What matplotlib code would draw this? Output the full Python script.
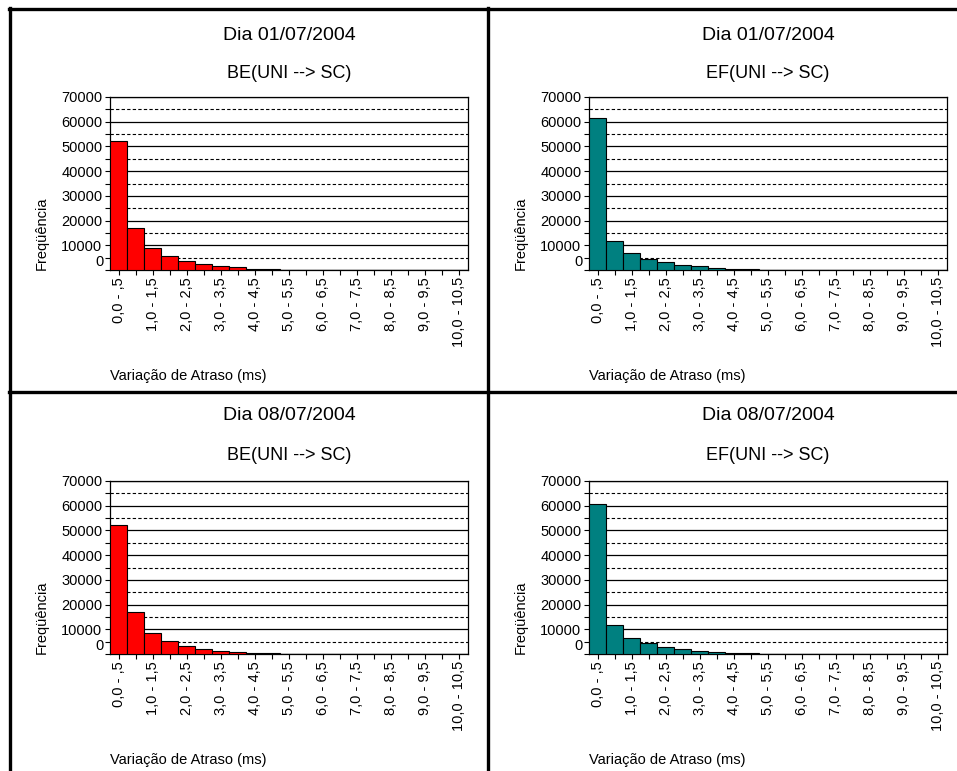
import matplotlib
matplotlib.use("Agg")
import matplotlib.pyplot as plt
from matplotlib.lines import Line2D
from matplotlib.ticker import MultipleLocator, FixedLocator
import numpy as np

plt.rcParams['font.family'] = ['Liberation Sans', 'DejaVu Sans']

bin_labels = ["0,0 - ,5", ",5 - 1,0", "1,0 - 1,5", "1,5 - 2,0", "2,0 - 2,5", "2,5 - 3,0",
              "3,0 - 3,5", "3,5 - 4,0", "4,0 - 4,5", "4,5 - 5,0", "5,0 - 5,5", "5,5 - 6,0",
              "6,0 - 6,5", "6,5 - 7,0", "7,0 - 7,5", "7,5 - 8,0", "8,0 - 8,5", "8,5 - 9,0",
              "9,0 - 9,5", "9,5 - 10,0", "10,0 - 10,5"]

be_0107 = [52200, 17100, 9100, 5500, 3500, 2500, 1600, 1100, 570, 300, 200, 150, 100, 80, 50, 30, 20, 10, 10, 5, 5]
ef_0107 = [61700, 11900, 6760, 4600, 3100, 2200, 1550, 970, 570, 350, 200, 150, 100, 80, 50, 30, 20, 10, 10, 5, 5]
be_0807 = [52300, 16900, 8500, 5100, 3100, 2050, 1380, 950, 550, 300, 200, 150, 100, 70, 50, 30, 20, 10, 10, 5, 5]
ef_0807 = [60800, 11800, 6550, 4600, 2950, 2000, 1200, 920, 500, 250, 180, 130, 90, 60, 40, 30, 20, 10, 10, 5, 5]

y_ticks = [0, 10000, 20000, 30000, 40000, 50000, 60000, 70000]

panels = [
    ("Dia 01/07/2004", "BE(UNI --> SC)", be_0107, "#FF0000", 110, 97),
    ("Dia 01/07/2004", "EF(UNI --> SC)", ef_0107, "#008080", 589, 97),
    ("Dia 08/07/2004", "BE(UNI --> SC)", be_0807, "#FF0000", 110, 481),
    ("Dia 08/07/2004", "EF(UNI --> SC)", ef_0807, "#008080", 589, 481),
]

W, H = 957, 771
fig = plt.figure(figsize=(W / 100, H / 100), dpi=100)
fig.patch.set_facecolor("white")

AW, AH = 358, 173
for title, sub, vals, color, lx, ty in panels:
    ax = fig.add_axes([lx / W, (H - ty - AH) / H, AW / W, AH / H])
    x = np.arange(len(bin_labels))
    ax.bar(x, vals, width=1.0, color=color, edgecolor="black", linewidth=0.8, zorder=3)
    ax.set_xlim(-0.5, len(bin_labels) - 0.5)
    ax.set_ylim(0, 70000)
    ax.set_yticks(y_ticks)
    # the "0" label sits slightly above the baseline in the original
    ax.set_yticklabels(["" if v == 0 else str(v) for v in y_ticks])
    ax.annotate("0", xy=(0, 0), xycoords=("axes fraction", "data"),
                xytext=(-6, 8), textcoords="offset pixels",
                ha="right", va="center", fontsize=10.5)
    ax.yaxis.set_minor_locator(FixedLocator(np.arange(5000, 70000, 10000)))
    ax.grid(which="major", axis="y", color="black", linewidth=0.9, linestyle="-", zorder=1)
    ax.grid(which="minor", axis="y", color="black", linewidth=0.8, linestyle=(0, (3, 2)), zorder=1)
    ax.set_xticks(x)
    ax.set_xticklabels([lab if i % 2 == 0 else "" for i, lab in enumerate(bin_labels)],
                       rotation=90, fontsize=10.5)
    ax.tick_params(axis="x", direction="out", length=3.5, width=0.8, pad=1.5)
    ax.tick_params(axis="y", which="both", direction="out", length=3.5, width=0.8, pad=2, labelsize=10.5)
    for s in ax.spines.values():
        s.set_linewidth(0.9)
        s.set_color("black")
    cx = (lx + AW / 2) / W
    fig.text(cx, 1 - (35 if ty < 300 else 416) / H, title, ha="center", va="center", fontsize=14)
    fig.text(cx, 1 - (74 if ty < 300 else 455) / H, sub, ha="center", va="center", fontsize=13)
    fig.text((lx - 68) / W, 1 - (ty + 136) / H, "Freqüência", rotation=90,
             ha="center", va="center", fontsize=10.5)
    fig.text(lx / W, 1 - (ty + 279) / H, "Variação de Atraso (ms)", ha="left", va="center", fontsize=10.5)

# frame lines
def hline(y, x0, x1):
    fig.add_artist(Line2D([x0 / W, x1 / W], [1 - y / H, 1 - y / H], color="black", linewidth=2.4,
                          transform=fig.transFigure))

def vline(x, y0, y1):
    fig.add_artist(Line2D([x / W, x / W], [1 - y0 / H, 1 - y1 / H], color="black", linewidth=2.4,
                          transform=fig.transFigure))

hline(9, 9, W)
hline(392, 9, W)
vline(10, 8, H)
vline(488, 8, H)

fig.savefig("out.png", dpi=100, facecolor="white")
